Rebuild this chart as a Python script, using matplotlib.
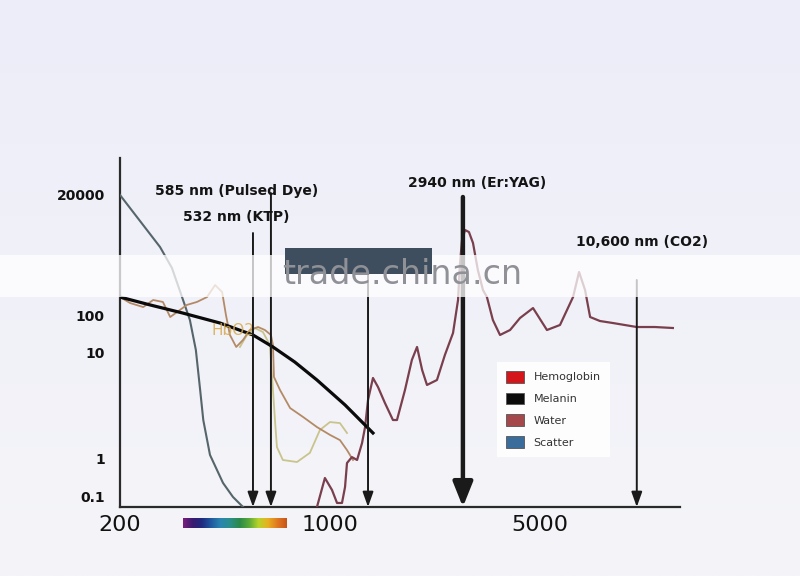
import numpy as np
import matplotlib
matplotlib.use("Agg")
import matplotlib.pyplot as plt
from matplotlib.patches import Patch, Rectangle
from matplotlib.ticker import FixedLocator, NullLocator
from matplotlib.colors import LinearSegmentedColormap

# ---------------- data (wavelength nm, relative absorption) ----------------
melanin_x = [200, 252, 324, 431, 555, 647, 765, 907, 1125, 1394]
melanin_y = [221, 156, 109, 61.5, 29.8, 14.4, 8.2, 5.53, 3.2, 1.73]

scatter_x = [200, 272, 298, 322, 342, 358, 370, 379, 399, 441, 476, 514]
scatter_y = [20000, 2010, 796, 221, 73.8, 12, 4.44, 2.30, 1.07, 0.229, 0.1, 0.0555]

hbo2_x = [200, 216, 239, 258, 278, 294, 310, 334, 361, 390, 415, 438, 451, 465,
          488, 514, 542, 577, 608, 637, 647, 652, 683, 738, 815, 907, 1002, 1082,
          1142, 1196]
hbo2_y = [221, 170, 142, 194, 178, 88.6, 114, 156, 178, 221, 376, 276, 100, 29.8,
          14.4, 22, 40.3, 48.3, 40.3, 29.8, 16.2, 5.91, 4.44, 2.99, 2.46, 1.97, 1.66,
          1.48, 1.19, 0.889]

hb_x = [502, 530, 563, 599, 632, 647, 657, 667, 698, 778, 859, 928, 1002, 1082, 1142]
hb_y = [14.4, 29.8, 45.5, 35.7, 16.2, 4.44, 2.30, 1.27, 0.889, 0.789, 1.12, 1.85,
        2.20, 2.15, 1.73]

water_x = [907, 964, 1018, 1058, 1099, 1125, 1142, 1186, 1234, 1282, 1312, 1342,
           1394, 1449, 1528, 1625, 1676, 1782, 1879, 1955, 2033, 2110, 2278, 2421,
           2577, 2678, 2716, 2762, 2826, 2912, 3004, 3118, 3243, 3343, 3499, 3696,
           3993, 4309, 4762, 5299, 5857, 6474, 6780, 7100, 7380, 7960, 8795, 10560,
           12130, 13930]
water_y = [0.0555, 0.307, 0.151, 0.0702, 0.0702, 0.180, 0.744, 1.02, 0.889, 1.39,
           1.97, 3.57, 5.78, 4.74, 3.34, 2.30, 2.30, 4.44, 8.58, 14.4, 6.89, 4.96,
           5.53, 9.57, 33.6, 194, 908, 2740, 4260, 3900, 2400, 729, 301, 221, 73.8,
           29.8, 40.3, 83.4, 136, 40.3, 54.6, 221, 667, 301, 88.6, 69.5, 61.5, 48.3,
           48.3, 45.5]

# laser arrows: (wavelength drawn, top value)
arrow_x = [555, 637, 1342, 2780, 10560]
arrow_top = [3730, 21800, 611, 18300, 469]
arrow_thick = [False, False, False, True, False]

x_ticks = [200, 1000, 5000]
x_tick_labels = ["200", "1000", "5000"]
y_ticks = [0.1, 1, 10, 100, 20000]
y_tick_labels = ["0.1", "1", "10", "100", "20000"]

legend_labels = ["Hemoglobin", "Melanin", "Water", "Scatter"]
legend_colors = ["#d4161a", "#0b0b0b", "#a5484b", "#3a6c9c"]

spectrum_colors = ["#7a1f7c", "#3a1a70", "#1e2a80", "#1f5aa0", "#2a86b0", "#2a8f8a",
                   "#2a8a48", "#5aaa38", "#b8d42a", "#e8b020", "#e07820", "#c85418"]

# nonuniform drawn y axis: fraction of axis height for each tick
TICK_FRAC = [0.0287, 0.1404, 0.4413, 0.5501, 0.8940]
LOW_SLOPE, HIGH_SLOPE = 39 / 349, 52.17 / 349
LA = np.log10(y_ticks)


def fwd(v):
    L = np.log10(np.clip(np.asarray(v, dtype=float), 1e-12, None))
    u = np.interp(L, LA, TICK_FRAC)
    u = np.where(L < LA[0], TICK_FRAC[0] + (L - LA[0]) * LOW_SLOPE, u)
    u = np.where(L > LA[-1], TICK_FRAC[-1] + (L - LA[-1]) * HIGH_SLOPE, u)
    return u


def inv(u):
    u = np.asarray(u, dtype=float)
    L = np.interp(u, TICK_FRAC, LA)
    L = np.where(u < TICK_FRAC[0], LA[0] + (u - TICK_FRAC[0]) / LOW_SLOPE, L)
    L = np.where(u > TICK_FRAC[-1], LA[-1] + (u - TICK_FRAC[-1]) / HIGH_SLOPE, L)
    return 10 ** L


W, H = 800, 576
fig = plt.figure(figsize=(8, 5.76), dpi=100)
fig.patch.set_facecolor("#f2f2f6")

# background gradient
bg = fig.add_axes([0, 0, 1, 1], zorder=-10)
grad = np.linspace(0, 1, 256).reshape(-1, 1)
c_top = np.array([0xec, 0xed, 0xf9]) / 255
c_bot = np.array([0xf5, 0xf5, 0xf8]) / 255
img = c_top[None, None, :] * (1 - grad[..., None]) + c_bot[None, None, :] * grad[..., None]
bg.imshow(img, aspect="auto", extent=[0, 1, 0, 1], origin="upper")
bg.axis("off")

ax = fig.add_axes([120 / W, (H - 507) / H, 560 / W, 349 / H])
ax.patch.set_alpha(0)
ax.set_xscale("log")
ax.set_yscale("function", functions=(fwd, inv))
ax.set_xlim(200, 10 ** (np.log10(200) + 560 / 300))
ymin, ymax = float(inv(0.0)), float(inv(1.0))
ax.set_ylim(ymin, ymax)

for s in ["top", "right"]:
    ax.spines[s].set_visible(False)
for s in ["left", "bottom"]:
    ax.spines[s].set_linewidth(1.6)
    ax.spines[s].set_color("#2a2a2a")

ax.xaxis.set_major_locator(FixedLocator(x_ticks))
ax.xaxis.set_minor_locator(NullLocator())
ax.set_xticklabels(x_tick_labels, fontsize=16, color="#111111")
ax.yaxis.set_major_locator(FixedLocator(y_ticks))
ax.yaxis.set_minor_locator(NullLocator())
ax.set_yticklabels(y_tick_labels, fontsize=10, fontweight="bold", color="#111111")
ax.tick_params(axis="x", length=0, pad=6)
ax.tick_params(axis="y", length=0, pad=11)

# curves
ax.plot(scatter_x, scatter_y, color="#56656b", lw=1.5, zorder=3)
ax.plot(hb_x, hb_y, color="#c9c48c", lw=1.3, zorder=3)
ax.plot(hbo2_x, hbo2_y, color="#b48a66", lw=1.3, zorder=3)
ax.plot(water_x, water_y, color="#7a3f4d", lw=1.6, zorder=4)
ax.plot(melanin_x, melanin_y, color="#0a0a0a", lw=2.3, zorder=5)

ax.text(476, 40, "HbO2", color="#d7a94e", alpha=0.85, fontsize=11,
        ha="center", va="center", zorder=6)

# arrows
for x, top, thick in zip(arrow_x, arrow_top, arrow_thick):
    if thick:
        style, lw = "-|>,head_length=1.5,head_width=0.6", 3.2
    else:
        style, lw = "-|>,head_length=0.9,head_width=0.32", 1.4
    ax.annotate("", xy=(x, ymin), xytext=(x, top),
                arrowprops=dict(arrowstyle=style, lw=lw, color="#1a1a1a",
                                mutation_scale=10, shrinkA=0, shrinkB=0),
                annotation_clip=False, zorder=6)

# laser labels
lab_kw = dict(fontsize=10, fontweight="bold", color="#141414", ha="center", va="center")
fig.text(237 / W, 1 - 191 / H, "585 nm (Pulsed Dye)", **lab_kw)
fig.text(236 / W, 1 - 217 / H, "532 nm (KTP)", **lab_kw)
fig.text(477 / W, 1 - 183 / H, "2940 nm (Er:YAG)", **lab_kw)
fig.text(642 / W, 1 - 242 / H, "10,600 nm (CO2)", **lab_kw)

# legend
handles = [Patch(facecolor=c, edgecolor="#555555", lw=0.6) for c in legend_colors]
leg = ax.legend(handles, legend_labels, loc="upper left",
                bbox_to_anchor=(497 / W, 1 - 362 / H), bbox_transform=fig.transFigure,
                frameon=True, fancybox=False, edgecolor="none", facecolor="white",
                framealpha=0.9, fontsize=8, handlelength=1.6, handleheight=1.25,
                labelspacing=0.9, borderpad=0.8, handletextpad=0.9, borderaxespad=0)
for t in leg.get_texts():
    t.set_color("#333333")

# watermark band, bar and text
fig.add_artist(Rectangle((0, (H - 297) / H), 1, 42 / H, transform=fig.transFigure,
                         facecolor="white", alpha=0.75, edgecolor="none", zorder=1))
fig.add_artist(Rectangle((710, 600), 2193 - 710, 1920 - 600, transform=ax.transData,
                         facecolor="#3f4e5e", edgecolor="none", zorder=2))
fig.text(402 / W, 1 - 275 / H, "trade.china.cn", fontsize=24, color="#8f9196",
         ha="center", va="center", zorder=3)

# visible spectrum strip
sp = fig.add_axes([183 / W, (H - 528) / H, 104 / W, 10 / H])
spec_cmap = LinearSegmentedColormap.from_list("spec", spectrum_colors)
sp.imshow(np.linspace(0, 1, 256).reshape(1, -1), cmap=spec_cmap,
          vmin=0, vmax=1, aspect="auto")
sp.axis("off")

fig.savefig("out.png", dpi=100, facecolor=fig.get_facecolor())
